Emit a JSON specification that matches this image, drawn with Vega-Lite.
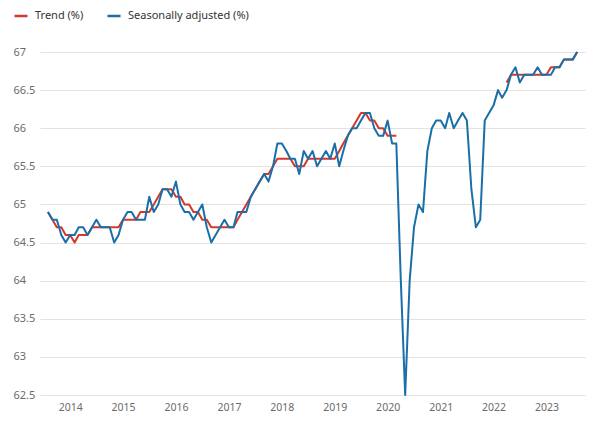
{
"$schema":"https://vega.github.io/schema/vega-lite/v6.json",
"width":545,"height":343,
"autosize":{"type":"none"},
"padding":{"left":40,"top":52,"right":15,"bottom":32},
"background":"white",
"config":{"view":{"stroke":null},"font":"Noto Sans"},
"data":{"values":[
{"date":"2013-08-01T00:00","series":"Trend (%)","seg":1,"value":64.9},
{"date":"2013-09-01T00:00","series":"Trend (%)","seg":1,"value":64.8},
{"date":"2013-10-01T00:00","series":"Trend (%)","seg":1,"value":64.7},
{"date":"2013-11-01T00:00","series":"Trend (%)","seg":1,"value":64.7},
{"date":"2013-12-01T00:00","series":"Trend (%)","seg":1,"value":64.6},
{"date":"2014-01-01T00:00","series":"Trend (%)","seg":1,"value":64.6},
{"date":"2014-02-01T00:00","series":"Trend (%)","seg":1,"value":64.5},
{"date":"2014-03-01T00:00","series":"Trend (%)","seg":1,"value":64.6},
{"date":"2014-04-01T00:00","series":"Trend (%)","seg":1,"value":64.6},
{"date":"2014-05-01T00:00","series":"Trend (%)","seg":1,"value":64.6},
{"date":"2014-06-01T00:00","series":"Trend (%)","seg":1,"value":64.7},
{"date":"2014-07-01T00:00","series":"Trend (%)","seg":1,"value":64.7},
{"date":"2014-08-01T00:00","series":"Trend (%)","seg":1,"value":64.7},
{"date":"2014-09-01T00:00","series":"Trend (%)","seg":1,"value":64.7},
{"date":"2014-10-01T00:00","series":"Trend (%)","seg":1,"value":64.7},
{"date":"2014-11-01T00:00","series":"Trend (%)","seg":1,"value":64.7},
{"date":"2014-12-01T00:00","series":"Trend (%)","seg":1,"value":64.7},
{"date":"2015-01-01T00:00","series":"Trend (%)","seg":1,"value":64.8},
{"date":"2015-02-01T00:00","series":"Trend (%)","seg":1,"value":64.8},
{"date":"2015-03-01T00:00","series":"Trend (%)","seg":1,"value":64.8},
{"date":"2015-04-01T00:00","series":"Trend (%)","seg":1,"value":64.8},
{"date":"2015-05-01T00:00","series":"Trend (%)","seg":1,"value":64.9},
{"date":"2015-06-01T00:00","series":"Trend (%)","seg":1,"value":64.9},
{"date":"2015-07-01T00:00","series":"Trend (%)","seg":1,"value":64.9},
{"date":"2015-08-01T00:00","series":"Trend (%)","seg":1,"value":65.0},
{"date":"2015-09-01T00:00","series":"Trend (%)","seg":1,"value":65.1},
{"date":"2015-10-01T00:00","series":"Trend (%)","seg":1,"value":65.2},
{"date":"2015-11-01T00:00","series":"Trend (%)","seg":1,"value":65.2},
{"date":"2015-12-01T00:00","series":"Trend (%)","seg":1,"value":65.2},
{"date":"2016-01-01T00:00","series":"Trend (%)","seg":1,"value":65.1},
{"date":"2016-02-01T00:00","series":"Trend (%)","seg":1,"value":65.1},
{"date":"2016-03-01T00:00","series":"Trend (%)","seg":1,"value":65.0},
{"date":"2016-04-01T00:00","series":"Trend (%)","seg":1,"value":65.0},
{"date":"2016-05-01T00:00","series":"Trend (%)","seg":1,"value":64.9},
{"date":"2016-06-01T00:00","series":"Trend (%)","seg":1,"value":64.9},
{"date":"2016-07-01T00:00","series":"Trend (%)","seg":1,"value":64.8},
{"date":"2016-08-01T00:00","series":"Trend (%)","seg":1,"value":64.8},
{"date":"2016-09-01T00:00","series":"Trend (%)","seg":1,"value":64.7},
{"date":"2016-10-01T00:00","series":"Trend (%)","seg":1,"value":64.7},
{"date":"2016-11-01T00:00","series":"Trend (%)","seg":1,"value":64.7},
{"date":"2016-12-01T00:00","series":"Trend (%)","seg":1,"value":64.7},
{"date":"2017-01-01T00:00","series":"Trend (%)","seg":1,"value":64.7},
{"date":"2017-02-01T00:00","series":"Trend (%)","seg":1,"value":64.7},
{"date":"2017-03-01T00:00","series":"Trend (%)","seg":1,"value":64.8},
{"date":"2017-04-01T00:00","series":"Trend (%)","seg":1,"value":64.9},
{"date":"2017-05-01T00:00","series":"Trend (%)","seg":1,"value":65.0},
{"date":"2017-06-01T00:00","series":"Trend (%)","seg":1,"value":65.1},
{"date":"2017-07-01T00:00","series":"Trend (%)","seg":1,"value":65.2},
{"date":"2017-08-01T00:00","series":"Trend (%)","seg":1,"value":65.3},
{"date":"2017-09-01T00:00","series":"Trend (%)","seg":1,"value":65.4},
{"date":"2017-10-01T00:00","series":"Trend (%)","seg":1,"value":65.4},
{"date":"2017-11-01T00:00","series":"Trend (%)","seg":1,"value":65.5},
{"date":"2017-12-01T00:00","series":"Trend (%)","seg":1,"value":65.6},
{"date":"2018-01-01T00:00","series":"Trend (%)","seg":1,"value":65.6},
{"date":"2018-02-01T00:00","series":"Trend (%)","seg":1,"value":65.6},
{"date":"2018-03-01T00:00","series":"Trend (%)","seg":1,"value":65.6},
{"date":"2018-04-01T00:00","series":"Trend (%)","seg":1,"value":65.5},
{"date":"2018-05-01T00:00","series":"Trend (%)","seg":1,"value":65.5},
{"date":"2018-06-01T00:00","series":"Trend (%)","seg":1,"value":65.5},
{"date":"2018-07-01T00:00","series":"Trend (%)","seg":1,"value":65.6},
{"date":"2018-08-01T00:00","series":"Trend (%)","seg":1,"value":65.6},
{"date":"2018-09-01T00:00","series":"Trend (%)","seg":1,"value":65.6},
{"date":"2018-10-01T00:00","series":"Trend (%)","seg":1,"value":65.6},
{"date":"2018-11-01T00:00","series":"Trend (%)","seg":1,"value":65.6},
{"date":"2018-12-01T00:00","series":"Trend (%)","seg":1,"value":65.6},
{"date":"2019-01-01T00:00","series":"Trend (%)","seg":1,"value":65.6},
{"date":"2019-02-01T00:00","series":"Trend (%)","seg":1,"value":65.7},
{"date":"2019-03-01T00:00","series":"Trend (%)","seg":1,"value":65.8},
{"date":"2019-04-01T00:00","series":"Trend (%)","seg":1,"value":65.9},
{"date":"2019-05-01T00:00","series":"Trend (%)","seg":1,"value":66.0},
{"date":"2019-06-01T00:00","series":"Trend (%)","seg":1,"value":66.1},
{"date":"2019-07-01T00:00","series":"Trend (%)","seg":1,"value":66.2},
{"date":"2019-08-01T00:00","series":"Trend (%)","seg":1,"value":66.2},
{"date":"2019-09-01T00:00","series":"Trend (%)","seg":1,"value":66.1},
{"date":"2019-10-01T00:00","series":"Trend (%)","seg":1,"value":66.1},
{"date":"2019-11-01T00:00","series":"Trend (%)","seg":1,"value":66.0},
{"date":"2019-12-01T00:00","series":"Trend (%)","seg":1,"value":66.0},
{"date":"2020-01-01T00:00","series":"Trend (%)","seg":1,"value":65.9},
{"date":"2020-02-01T00:00","series":"Trend (%)","seg":1,"value":65.9},
{"date":"2020-03-01T00:00","series":"Trend (%)","seg":1,"value":65.9},
{"date":"2022-04-01T00:00","series":"Trend (%)","seg":2,"value":66.6},
{"date":"2022-05-01T00:00","series":"Trend (%)","seg":2,"value":66.7},
{"date":"2022-06-01T00:00","series":"Trend (%)","seg":2,"value":66.7},
{"date":"2022-07-01T00:00","series":"Trend (%)","seg":2,"value":66.7},
{"date":"2022-08-01T00:00","series":"Trend (%)","seg":2,"value":66.7},
{"date":"2022-09-01T00:00","series":"Trend (%)","seg":2,"value":66.7},
{"date":"2022-10-01T00:00","series":"Trend (%)","seg":2,"value":66.7},
{"date":"2022-11-01T00:00","series":"Trend (%)","seg":2,"value":66.7},
{"date":"2022-12-01T00:00","series":"Trend (%)","seg":2,"value":66.7},
{"date":"2023-01-01T00:00","series":"Trend (%)","seg":2,"value":66.7},
{"date":"2023-02-01T00:00","series":"Trend (%)","seg":2,"value":66.8},
{"date":"2023-03-01T00:00","series":"Trend (%)","seg":2,"value":66.8},
{"date":"2023-04-01T00:00","series":"Trend (%)","seg":2,"value":66.8},
{"date":"2023-05-01T00:00","series":"Trend (%)","seg":2,"value":66.9},
{"date":"2023-06-01T00:00","series":"Trend (%)","seg":2,"value":66.9},
{"date":"2023-07-01T00:00","series":"Trend (%)","seg":2,"value":66.9},
{"date":"2023-08-01T00:00","series":"Trend (%)","seg":2,"value":67.0},
{"date":"2013-08-01T00:00","series":"Seasonally adjusted (%)","seg":0,"value":64.9},
{"date":"2013-09-01T00:00","series":"Seasonally adjusted (%)","seg":0,"value":64.8},
{"date":"2013-10-01T00:00","series":"Seasonally adjusted (%)","seg":0,"value":64.8},
{"date":"2013-11-01T00:00","series":"Seasonally adjusted (%)","seg":0,"value":64.6},
{"date":"2013-12-01T00:00","series":"Seasonally adjusted (%)","seg":0,"value":64.5},
{"date":"2014-01-01T00:00","series":"Seasonally adjusted (%)","seg":0,"value":64.6},
{"date":"2014-02-01T00:00","series":"Seasonally adjusted (%)","seg":0,"value":64.6},
{"date":"2014-03-01T00:00","series":"Seasonally adjusted (%)","seg":0,"value":64.7},
{"date":"2014-04-01T00:00","series":"Seasonally adjusted (%)","seg":0,"value":64.7},
{"date":"2014-05-01T00:00","series":"Seasonally adjusted (%)","seg":0,"value":64.6},
{"date":"2014-06-01T00:00","series":"Seasonally adjusted (%)","seg":0,"value":64.7},
{"date":"2014-07-01T00:00","series":"Seasonally adjusted (%)","seg":0,"value":64.8},
{"date":"2014-08-01T00:00","series":"Seasonally adjusted (%)","seg":0,"value":64.7},
{"date":"2014-09-01T00:00","series":"Seasonally adjusted (%)","seg":0,"value":64.7},
{"date":"2014-10-01T00:00","series":"Seasonally adjusted (%)","seg":0,"value":64.7},
{"date":"2014-11-01T00:00","series":"Seasonally adjusted (%)","seg":0,"value":64.5},
{"date":"2014-12-01T00:00","series":"Seasonally adjusted (%)","seg":0,"value":64.6},
{"date":"2015-01-01T00:00","series":"Seasonally adjusted (%)","seg":0,"value":64.8},
{"date":"2015-02-01T00:00","series":"Seasonally adjusted (%)","seg":0,"value":64.9},
{"date":"2015-03-01T00:00","series":"Seasonally adjusted (%)","seg":0,"value":64.9},
{"date":"2015-04-01T00:00","series":"Seasonally adjusted (%)","seg":0,"value":64.8},
{"date":"2015-05-01T00:00","series":"Seasonally adjusted (%)","seg":0,"value":64.8},
{"date":"2015-06-01T00:00","series":"Seasonally adjusted (%)","seg":0,"value":64.8},
{"date":"2015-07-01T00:00","series":"Seasonally adjusted (%)","seg":0,"value":65.1},
{"date":"2015-08-01T00:00","series":"Seasonally adjusted (%)","seg":0,"value":64.9},
{"date":"2015-09-01T00:00","series":"Seasonally adjusted (%)","seg":0,"value":65.0},
{"date":"2015-10-01T00:00","series":"Seasonally adjusted (%)","seg":0,"value":65.2},
{"date":"2015-11-01T00:00","series":"Seasonally adjusted (%)","seg":0,"value":65.2},
{"date":"2015-12-01T00:00","series":"Seasonally adjusted (%)","seg":0,"value":65.1},
{"date":"2016-01-01T00:00","series":"Seasonally adjusted (%)","seg":0,"value":65.3},
{"date":"2016-02-01T00:00","series":"Seasonally adjusted (%)","seg":0,"value":65.0},
{"date":"2016-03-01T00:00","series":"Seasonally adjusted (%)","seg":0,"value":64.9},
{"date":"2016-04-01T00:00","series":"Seasonally adjusted (%)","seg":0,"value":64.9},
{"date":"2016-05-01T00:00","series":"Seasonally adjusted (%)","seg":0,"value":64.8},
{"date":"2016-06-01T00:00","series":"Seasonally adjusted (%)","seg":0,"value":64.9},
{"date":"2016-07-01T00:00","series":"Seasonally adjusted (%)","seg":0,"value":65.0},
{"date":"2016-08-01T00:00","series":"Seasonally adjusted (%)","seg":0,"value":64.7},
{"date":"2016-09-01T00:00","series":"Seasonally adjusted (%)","seg":0,"value":64.5},
{"date":"2016-10-01T00:00","series":"Seasonally adjusted (%)","seg":0,"value":64.6},
{"date":"2016-11-01T00:00","series":"Seasonally adjusted (%)","seg":0,"value":64.7},
{"date":"2016-12-01T00:00","series":"Seasonally adjusted (%)","seg":0,"value":64.8},
{"date":"2017-01-01T00:00","series":"Seasonally adjusted (%)","seg":0,"value":64.7},
{"date":"2017-02-01T00:00","series":"Seasonally adjusted (%)","seg":0,"value":64.7},
{"date":"2017-03-01T00:00","series":"Seasonally adjusted (%)","seg":0,"value":64.9},
{"date":"2017-04-01T00:00","series":"Seasonally adjusted (%)","seg":0,"value":64.9},
{"date":"2017-05-01T00:00","series":"Seasonally adjusted (%)","seg":0,"value":64.9},
{"date":"2017-06-01T00:00","series":"Seasonally adjusted (%)","seg":0,"value":65.1},
{"date":"2017-07-01T00:00","series":"Seasonally adjusted (%)","seg":0,"value":65.2},
{"date":"2017-08-01T00:00","series":"Seasonally adjusted (%)","seg":0,"value":65.3},
{"date":"2017-09-01T00:00","series":"Seasonally adjusted (%)","seg":0,"value":65.4},
{"date":"2017-10-01T00:00","series":"Seasonally adjusted (%)","seg":0,"value":65.3},
{"date":"2017-11-01T00:00","series":"Seasonally adjusted (%)","seg":0,"value":65.5},
{"date":"2017-12-01T00:00","series":"Seasonally adjusted (%)","seg":0,"value":65.8},
{"date":"2018-01-01T00:00","series":"Seasonally adjusted (%)","seg":0,"value":65.8},
{"date":"2018-02-01T00:00","series":"Seasonally adjusted (%)","seg":0,"value":65.7},
{"date":"2018-03-01T00:00","series":"Seasonally adjusted (%)","seg":0,"value":65.6},
{"date":"2018-04-01T00:00","series":"Seasonally adjusted (%)","seg":0,"value":65.6},
{"date":"2018-05-01T00:00","series":"Seasonally adjusted (%)","seg":0,"value":65.4},
{"date":"2018-06-01T00:00","series":"Seasonally adjusted (%)","seg":0,"value":65.7},
{"date":"2018-07-01T00:00","series":"Seasonally adjusted (%)","seg":0,"value":65.6},
{"date":"2018-08-01T00:00","series":"Seasonally adjusted (%)","seg":0,"value":65.7},
{"date":"2018-09-01T00:00","series":"Seasonally adjusted (%)","seg":0,"value":65.5},
{"date":"2018-10-01T00:00","series":"Seasonally adjusted (%)","seg":0,"value":65.6},
{"date":"2018-11-01T00:00","series":"Seasonally adjusted (%)","seg":0,"value":65.7},
{"date":"2018-12-01T00:00","series":"Seasonally adjusted (%)","seg":0,"value":65.6},
{"date":"2019-01-01T00:00","series":"Seasonally adjusted (%)","seg":0,"value":65.8},
{"date":"2019-02-01T00:00","series":"Seasonally adjusted (%)","seg":0,"value":65.5},
{"date":"2019-03-01T00:00","series":"Seasonally adjusted (%)","seg":0,"value":65.7},
{"date":"2019-04-01T00:00","series":"Seasonally adjusted (%)","seg":0,"value":65.9},
{"date":"2019-05-01T00:00","series":"Seasonally adjusted (%)","seg":0,"value":66.0},
{"date":"2019-06-01T00:00","series":"Seasonally adjusted (%)","seg":0,"value":66.0},
{"date":"2019-07-01T00:00","series":"Seasonally adjusted (%)","seg":0,"value":66.1},
{"date":"2019-08-01T00:00","series":"Seasonally adjusted (%)","seg":0,"value":66.2},
{"date":"2019-09-01T00:00","series":"Seasonally adjusted (%)","seg":0,"value":66.2},
{"date":"2019-10-01T00:00","series":"Seasonally adjusted (%)","seg":0,"value":66.0},
{"date":"2019-11-01T00:00","series":"Seasonally adjusted (%)","seg":0,"value":65.9},
{"date":"2019-12-01T00:00","series":"Seasonally adjusted (%)","seg":0,"value":65.9},
{"date":"2020-01-01T00:00","series":"Seasonally adjusted (%)","seg":0,"value":66.1},
{"date":"2020-02-01T00:00","series":"Seasonally adjusted (%)","seg":0,"value":65.8},
{"date":"2020-03-01T00:00","series":"Seasonally adjusted (%)","seg":0,"value":65.8},
{"date":"2020-04-01T00:00","series":"Seasonally adjusted (%)","seg":0,"value":64.0},
{"date":"2020-05-01T00:00","series":"Seasonally adjusted (%)","seg":0,"value":62.5},
{"date":"2020-06-01T00:00","series":"Seasonally adjusted (%)","seg":0,"value":64.0},
{"date":"2020-07-01T00:00","series":"Seasonally adjusted (%)","seg":0,"value":64.7},
{"date":"2020-08-01T00:00","series":"Seasonally adjusted (%)","seg":0,"value":65.0},
{"date":"2020-09-01T00:00","series":"Seasonally adjusted (%)","seg":0,"value":64.9},
{"date":"2020-10-01T00:00","series":"Seasonally adjusted (%)","seg":0,"value":65.7},
{"date":"2020-11-01T00:00","series":"Seasonally adjusted (%)","seg":0,"value":66.0},
{"date":"2020-12-01T00:00","series":"Seasonally adjusted (%)","seg":0,"value":66.1},
{"date":"2021-01-01T00:00","series":"Seasonally adjusted (%)","seg":0,"value":66.1},
{"date":"2021-02-01T00:00","series":"Seasonally adjusted (%)","seg":0,"value":66.0},
{"date":"2021-03-01T00:00","series":"Seasonally adjusted (%)","seg":0,"value":66.2},
{"date":"2021-04-01T00:00","series":"Seasonally adjusted (%)","seg":0,"value":66.0},
{"date":"2021-05-01T00:00","series":"Seasonally adjusted (%)","seg":0,"value":66.1},
{"date":"2021-06-01T00:00","series":"Seasonally adjusted (%)","seg":0,"value":66.2},
{"date":"2021-07-01T00:00","series":"Seasonally adjusted (%)","seg":0,"value":66.1},
{"date":"2021-08-01T00:00","series":"Seasonally adjusted (%)","seg":0,"value":65.2},
{"date":"2021-09-01T00:00","series":"Seasonally adjusted (%)","seg":0,"value":64.7},
{"date":"2021-10-01T00:00","series":"Seasonally adjusted (%)","seg":0,"value":64.8},
{"date":"2021-11-01T00:00","series":"Seasonally adjusted (%)","seg":0,"value":66.1},
{"date":"2021-12-01T00:00","series":"Seasonally adjusted (%)","seg":0,"value":66.2},
{"date":"2022-01-01T00:00","series":"Seasonally adjusted (%)","seg":0,"value":66.3},
{"date":"2022-02-01T00:00","series":"Seasonally adjusted (%)","seg":0,"value":66.5},
{"date":"2022-03-01T00:00","series":"Seasonally adjusted (%)","seg":0,"value":66.4},
{"date":"2022-04-01T00:00","series":"Seasonally adjusted (%)","seg":0,"value":66.5},
{"date":"2022-05-01T00:00","series":"Seasonally adjusted (%)","seg":0,"value":66.7},
{"date":"2022-06-01T00:00","series":"Seasonally adjusted (%)","seg":0,"value":66.8},
{"date":"2022-07-01T00:00","series":"Seasonally adjusted (%)","seg":0,"value":66.6},
{"date":"2022-08-01T00:00","series":"Seasonally adjusted (%)","seg":0,"value":66.7},
{"date":"2022-09-01T00:00","series":"Seasonally adjusted (%)","seg":0,"value":66.7},
{"date":"2022-10-01T00:00","series":"Seasonally adjusted (%)","seg":0,"value":66.7},
{"date":"2022-11-01T00:00","series":"Seasonally adjusted (%)","seg":0,"value":66.8},
{"date":"2022-12-01T00:00","series":"Seasonally adjusted (%)","seg":0,"value":66.7},
{"date":"2023-01-01T00:00","series":"Seasonally adjusted (%)","seg":0,"value":66.7},
{"date":"2023-02-01T00:00","series":"Seasonally adjusted (%)","seg":0,"value":66.7},
{"date":"2023-03-01T00:00","series":"Seasonally adjusted (%)","seg":0,"value":66.8},
{"date":"2023-04-01T00:00","series":"Seasonally adjusted (%)","seg":0,"value":66.8},
{"date":"2023-05-01T00:00","series":"Seasonally adjusted (%)","seg":0,"value":66.9},
{"date":"2023-06-01T00:00","series":"Seasonally adjusted (%)","seg":0,"value":66.9},
{"date":"2023-07-01T00:00","series":"Seasonally adjusted (%)","seg":0,"value":66.9},
{"date":"2023-08-01T00:00","series":"Seasonally adjusted (%)","seg":0,"value":67.0}
]},
"mark":{"type":"line","strokeWidth":2,"strokeJoin":"round"},
"encoding":{
"x":{"field":"date","type":"temporal",
 "scale":{"domain":["2013-06-07T00:00","2023-09-24T00:00"]},
 "axis":{"title":null,"format":"%Y","tickCount":{"interval":"year","step":1},"ticks":false,"domain":false,"grid":false,"labelFlush":false,"labelPadding":7,"labelColor":"#6b6b6b","labelFontSize":10.5,"labelFont":"Noto Sans"}},
"y":{"field":"value","type":"quantitative",
 "scale":{"domain":[62.5,67],"zero":false,"nice":false},
 "axis":{"title":null,"values":[62.5,63,63.5,64,64.5,65,65.5,66,66.5,67],"format":"~g","ticks":false,"domain":false,"labelAlign":"left","labelPadding":27,"labelColor":"#6b6b6b","labelFontSize":11,"labelFont":"Noto Sans","gridColor":"#e2e2e2","gridWidth":1}},
"color":{"field":"series","type":"nominal",
 "scale":{"domain":["Trend (%)","Seasonally adjusted (%)"],"range":["#d2382b","#1a6fa8"]},
 "legend":{"title":null,"orient":"none","legendX":-27,"legendY":-44,"direction":"horizontal","symbolType":"stroke","symbolSize":170,"symbolStrokeWidth":2.5,"labelFontSize":11,"labelColor":"#333333","labelFont":"Noto Sans","labelOffset":6,"columnPadding":18}},
"detail":{"field":"seg","type":"nominal"}
}
}
